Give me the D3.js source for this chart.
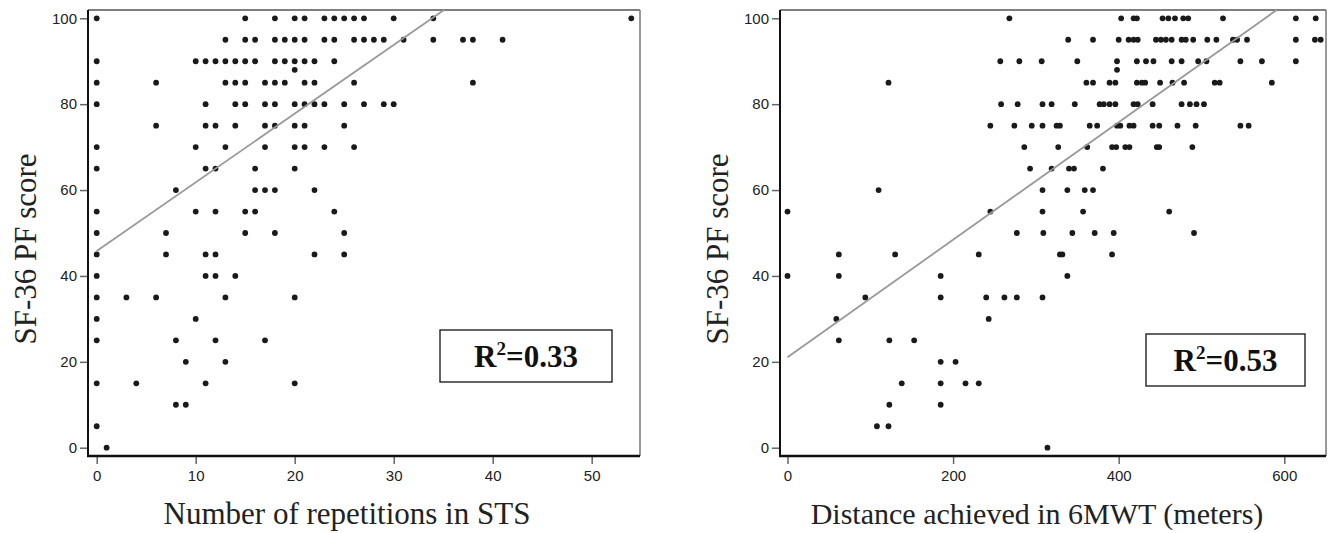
<!DOCTYPE html>
<html><head><meta charset="utf-8">
<script src="https://cdn.jsdelivr.net/npm/d3@7/dist/d3.min.js"></script>
<style>body{margin:0;background:#fff}svg{display:block}</style>
</head><body>
<svg id="c" width="1333" height="533"></svg>
<script>
// ---- Data ----
const scoreLevels = [100,95,90,85,80,75,70,65,60,55,50,45,40,35,30,25,20,15,10,5,0];
// Left: number of repetitions in STS, grouped by SF-36 PF score level
const stsByLevel = [
  [0,15,18,20,21,23,24,25,26,27,30,34,54],
  [13,15,16,18,19,20,21,23,24,26,27,28,29,31,34,37,38,41],
  [0,10,11,12,13,14,15,16,18,19,20,21,22,24],
  [0,6,13,14,15,17,18,19,21,22,26,38],
  [0,11,14,15,17,18,20,21,22,23,25,27,29,30],
  [6,11,12,14,17,18,20,21,25],
  [0,10,13,17,20,21,23,26],
  [0,11,12,16,20],
  [8,16,17,18,22],
  [0,10,12,15,16,24],
  [0,7,15,18,25],
  [0,7,11,12,22,25],
  [0,11,12,14],
  [0,3,6,13,20],
  [0,10],
  [0,8,12,17],
  [9,13],
  [0,4,11,20],
  [8,9],
  [0],
  [1]
];
const stsExtra = [[20,88]];
// Right: distance achieved in 6MWT (m), grouped by score level
const mwtByLevel = [
  [268,403,418,422,453,460,468,478,484,526,614,638],
  [339,369,400,412,418,423,445,451,457,464,476,481,490,507,518,538,543,555,614,637,644],
  [257,280,307,350,398,422,433,442,464,476,496,506,547,573,614],
  [122,361,369,389,396,422,428,432,450,465,479,516,522,585],
  [258,278,308,319,347,377,382,389,396,418,423,441,476,486,494,503],
  [245,274,295,308,325,329,365,374,398,402,413,418,441,449,471,493,547,557],
  [286,327,362,392,397,408,413,446,449,489],
  [293,319,340,346,381],
  [110,308,338,359,369],
  [0,245,308,357,461],
  [277,309,344,371,394,491],
  [62,130,231,329,332,392],
  [0,62,185,338],
  [94,185,240,262,277,308],
  [59,243],
  [62,123,153],
  [185,203],
  [138,185,215,231],
  [123,185],
  [108,122],
  [314]
];
const mwtExtra = [[398,88]];
const stsFit = [45.8, 1.60];     // intercept, slope
const mwtFit = [21.05, 0.1369];
const r2Labels = ["0.33", "0.53"];
const yTicks = [0,20,40,60,80,100];
const stsTicks = [0,10,20,30,40,50];
const mwtTicks = [0,200,400,600];
const yTitle = "SF-36 PF score";
const xTitles = ["Number of repetitions in STS", "Distance achieved in 6MWT (meters)"];

// ---- Drawing ----
const svg = d3.select("#c");
const yScale = d3.scaleLinear().domain([-1.93, 101.93]).range([456, 10]);

function flatten(byLevel, extra){
  const pts = [];
  byLevel.forEach((xs,i)=>xs.forEach(x=>pts.push([x, scoreLevels[i]])));
  extra.forEach(p=>pts.push(p));
  return pts;
}

function panel(opt){
  const g = svg.append("g");
  const x = opt.x, y = yScale;
  const [L,R] = x.range(), T = 10, B = 456;
  g.append("line").attr("x1",L).attr("x2",R).attr("y1",T).attr("y2",T).attr("stroke","#555").attr("stroke-width",1.5);
  g.append("line").attr("x1",R).attr("x2",R).attr("y1",T).attr("y2",B).attr("stroke","#777").attr("stroke-width",1.5);
  const ya = d3.axisLeft(y).tickValues(yTicks).tickSize(8).tickPadding(3);
  const yg = g.append("g").attr("transform",`translate(${L},0)`).call(ya);
  const xa = d3.axisBottom(x).tickValues(opt.ticks).tickSize(8).tickPadding(6);
  const xg = g.append("g").attr("transform",`translate(0,${B})`).call(xa);
  [yg,xg].forEach(a=>{
    a.select(".domain").remove();
    a.selectAll(".tick line").attr("stroke","#666").attr("stroke-width",1.5);
    a.selectAll(".tick text").attr("fill","#222").style("font-family","'Liberation Sans', Arial, sans-serif").style("font-size","15px");
  });
  g.append("line").attr("x1",L).attr("x2",L).attr("y1",T).attr("y2",B+1).attr("stroke","#111").attr("stroke-width",2);
  g.append("line").attr("x1",L-1).attr("x2",R).attr("y1",B).attr("y2",B).attr("stroke","#111").attr("stroke-width",2.5);
  g.append("g").selectAll("circle").data(flatten(opt.byLevel,opt.extra)).join("circle")
    .attr("cx",d=>x(d[0])).attr("cy",d=>y(d[1])).attr("r",2.9).attr("fill","#1a1a1a");
  const [a,b] = opt.fit;
  const yTop = y.domain()[1];
  const xEnd = Math.min((yTop - a)/b, x.domain()[1]);
  g.append("line").attr("x1",x(0)).attr("y1",y(a)).attr("x2",x(xEnd)).attr("y2",y(a+b*xEnd))
    .attr("stroke","#999").attr("stroke-width",1.8);
  const bx = opt.box;
  g.append("rect").attr("x",bx[0]).attr("y",bx[1]).attr("width",bx[2]).attr("height",bx[3])
    .attr("fill","#fff").attr("stroke","#111").attr("stroke-width",1.3);
  const t = g.append("text").attr("x",bx[0]+bx[2]/2).attr("y",bx[1]+bx[3]/2+11).attr("text-anchor","middle")
    .style("font-family","'Liberation Serif','Times New Roman',serif").style("font-weight","bold").style("font-size","31px").attr("fill","#111");
  t.append("tspan").text("R");
  t.append("tspan").text("2").style("font-size","19px").attr("dy",-12);
  t.append("tspan").text("=" + opt.r2).attr("dy",12);
  g.append("text").attr("transform",`translate(${opt.yTitleX},${opt.yTitleY}) rotate(-90)`).attr("text-anchor","middle")
    .style("font-family","'Liberation Serif','Times New Roman',serif").style("font-size","31px").attr("fill","#222").text(yTitle);
  g.append("text").attr("x",opt.xTitleX).attr("y",524).attr("text-anchor","middle")
    .style("font-family","'Liberation Serif','Times New Roman',serif").style("font-size",opt.xTitleSize).attr("fill","#222").text(opt.xTitle);
}

panel({
  x: d3.scaleLinear().domain([-0.88, 54.88]).range([88, 640]),
  ticks: stsTicks, byLevel: stsByLevel, extra: stsExtra, fit: stsFit, r2: r2Labels[0],
  box: [440, 330, 172, 52], yTitleX: 36, yTitleY: 249, xTitleX: 347, xTitle: xTitles[0], xTitleSize: "31px"
});
panel({
  x: d3.scaleLinear().domain([-9.06, 650.4]).range([780, 1326]),
  ticks: mwtTicks, byLevel: mwtByLevel, extra: mwtExtra, fit: mwtFit, r2: r2Labels[1],
  box: [1146, 334, 159, 52], yTitleX: 728, yTitleY: 249, xTitleX: 1037, xTitle: xTitles[1], xTitleSize: "30px"
});
</script>
</body></html>
